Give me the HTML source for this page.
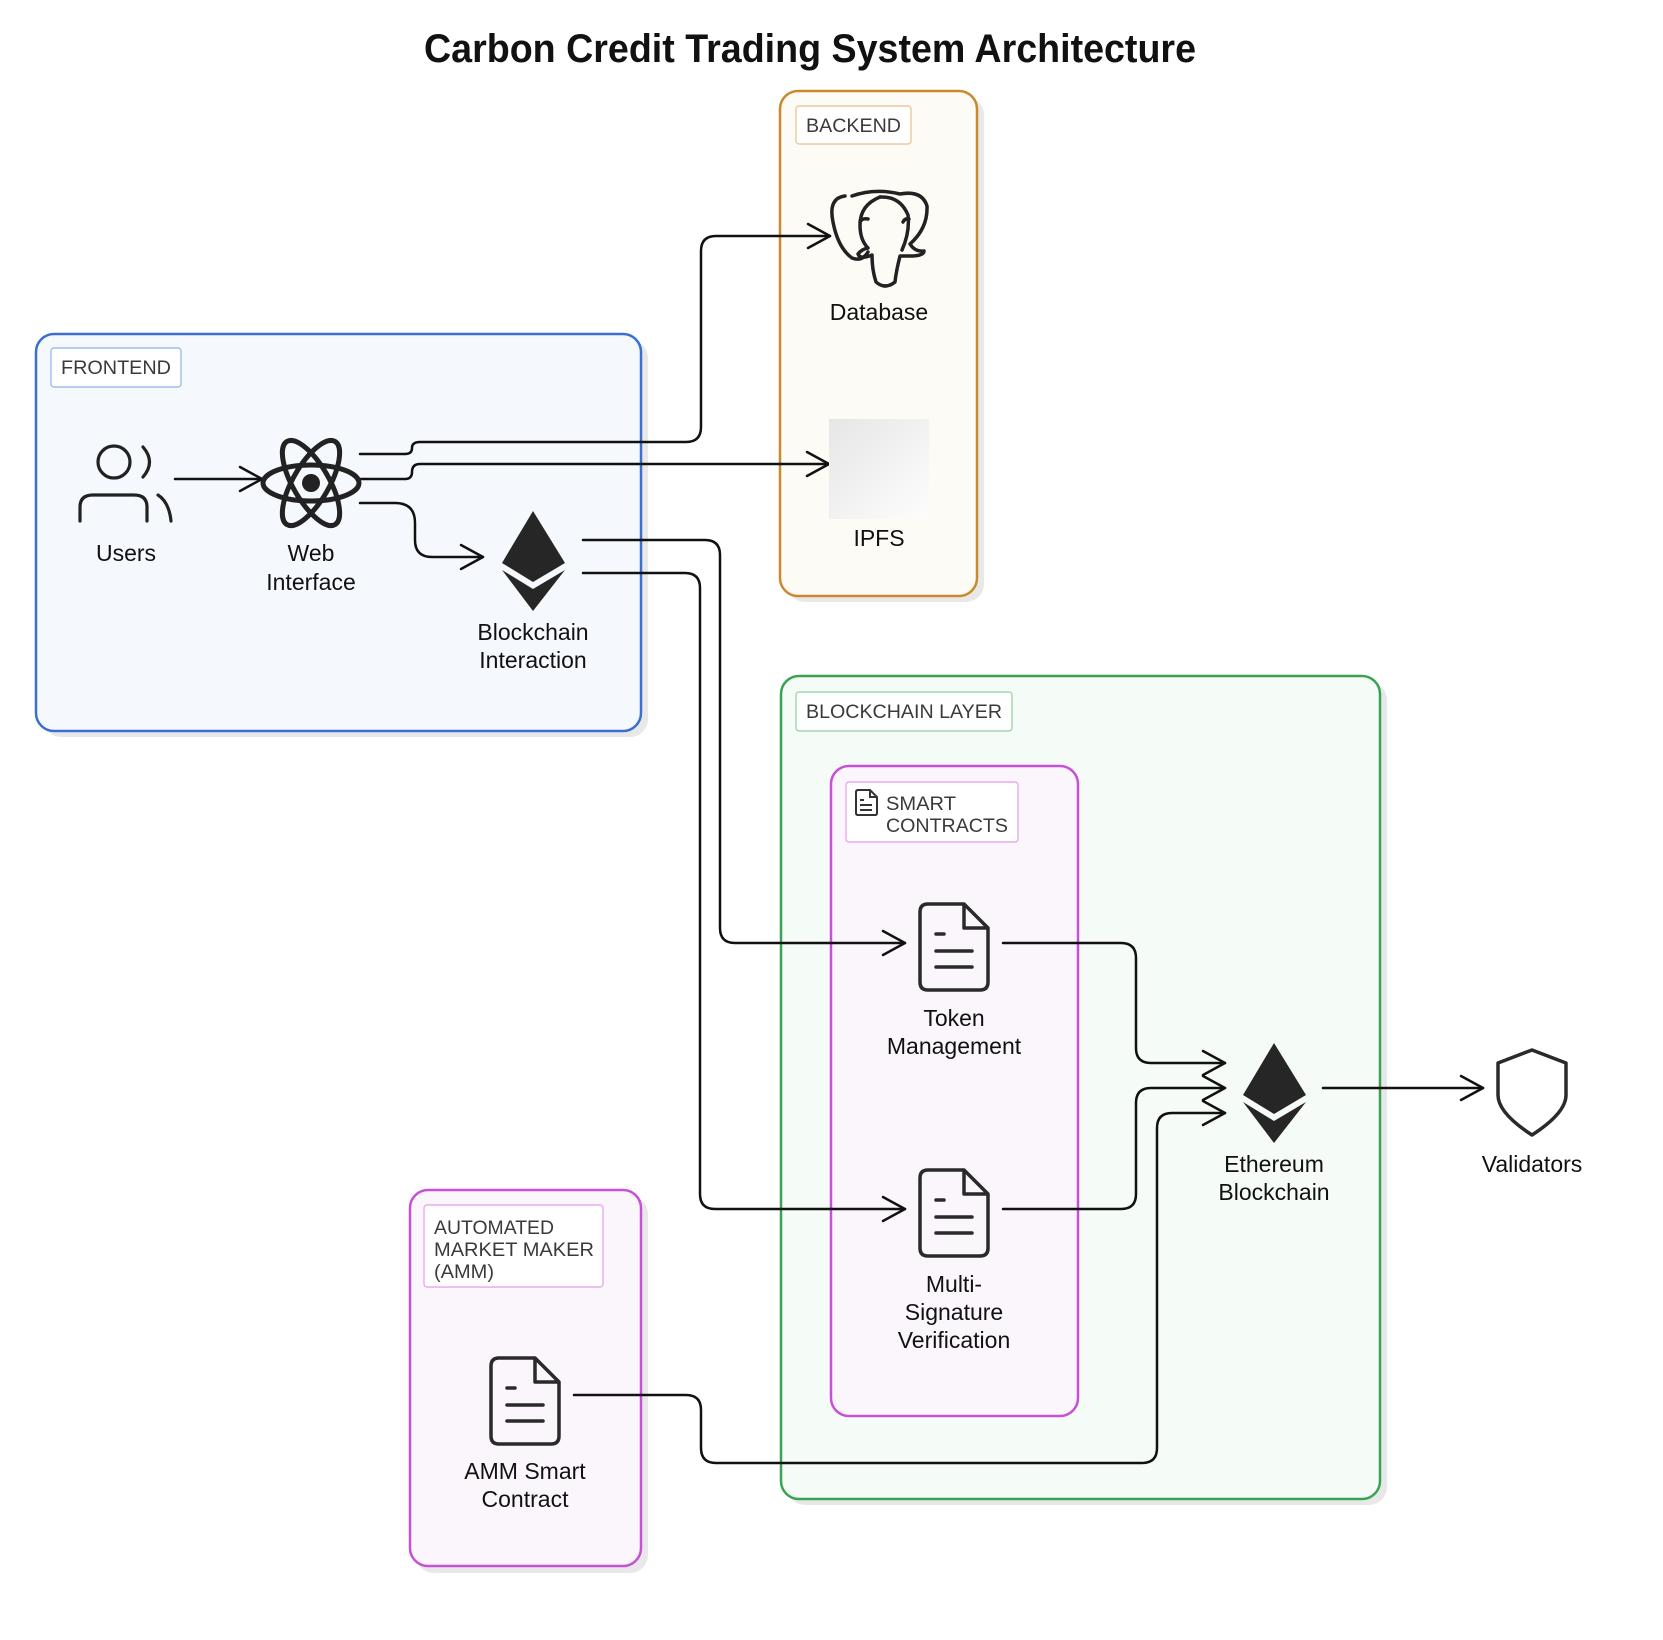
<!DOCTYPE html>
<html><head><meta charset="utf-8"><style>
html,body{margin:0;padding:0;background:#fff;}
svg{display:block;}
text{font-family:"Liberation Sans",Arial,sans-serif;}
</style></head><body>
<svg width="1663" height="1640" viewBox="0 0 1663 1640" xmlns="http://www.w3.org/2000/svg">
<defs>
<linearGradient id="ipfs" x1="0" y1="0" x2="1" y2="1"><stop offset="0" stop-color="#e6e6e6"/><stop offset="1" stop-color="#fdfdfd"/></linearGradient>
</defs>
<rect width="1663" height="1640" fill="#fff"/>
<text x="424" y="62" font-size="40" font-weight="bold" textLength="772" lengthAdjust="spacingAndGlyphs" fill="#111">Carbon Credit Trading System Architecture</text>

<!-- shadows -->
<g fill="#e8e8e8">
<rect x="43" y="340" width="605" height="397" rx="18"/>
<rect x="787" y="97" width="197" height="505" rx="18"/>
<rect x="787" y="682" width="600" height="823" rx="18"/>
<rect x="837" y="772" width="248" height="651" rx="18"/>
<rect x="416" y="1196" width="232" height="377" rx="18"/>
</g>
<!-- containers -->
<rect x="36" y="334" width="605" height="397" rx="18" fill="#f5f8fc" stroke="#3a6fd0" stroke-width="2.5"/>
<rect x="780" y="91" width="197" height="505" rx="18" fill="#fcfbf6" stroke="#c98a2d" stroke-width="2.5"/>
<rect x="781" y="676" width="599" height="823" rx="18" fill="#f5fbf7" stroke="#3aa352" stroke-width="2.5"/>
<rect x="831" y="766" width="247" height="650" rx="18" fill="#fbf6fc" stroke="#c84fd8" stroke-width="2.5"/>
<rect x="410" y="1190" width="231" height="376" rx="18" fill="#fbf6fc" stroke="#c84fd8" stroke-width="2.5"/>

<!-- label boxes -->
<g font-size="19" fill="#3a3a3a">
<rect x="51" y="348" width="130" height="39" rx="3" fill="#fff" stroke="#8fb0e8" stroke-width="1.2"/>
<text x="61" y="374" textLength="110" lengthAdjust="spacingAndGlyphs">FRONTEND</text>
<rect x="796" y="106" width="115" height="38" rx="3" fill="#fff" stroke="#e6c08a" stroke-width="1.2"/>
<text x="806" y="132" textLength="95" lengthAdjust="spacingAndGlyphs">BACKEND</text>
<rect x="796" y="692" width="216" height="39" rx="3" fill="#fff" stroke="#8fd0a0" stroke-width="1.2"/>
<text x="806" y="718" textLength="196" lengthAdjust="spacingAndGlyphs">BLOCKCHAIN LAYER</text>
<rect x="846" y="782" width="172" height="60" rx="3" fill="#fff" stroke="#e49bee" stroke-width="1.2"/>
<text x="886" y="810" textLength="70" lengthAdjust="spacingAndGlyphs">SMART</text>
<text x="886" y="832" textLength="122" lengthAdjust="spacingAndGlyphs">CONTRACTS</text>
<rect x="424" y="1205" width="179" height="82" rx="3" fill="#fff" stroke="#e49bee" stroke-width="1.2"/>
<text x="434" y="1234" textLength="120" lengthAdjust="spacingAndGlyphs">AUTOMATED</text>
<text x="434" y="1256" textLength="160" lengthAdjust="spacingAndGlyphs">MARKET MAKER</text>
<text x="434" y="1278" textLength="60" lengthAdjust="spacingAndGlyphs">(AMM)</text>
</g>
<!-- small doc icon in smart contracts label -->
<g fill="none" stroke="#333" stroke-width="2">
<path d="M858 790 H870 L877 797 V813 Q877 815 875 815 H858 Q856 815 856 813 V792 Q856 790 858 790 Z"/>
<path d="M870 790 V797 H877 M860 800 H864 M860 805 H872 M860 810 H872"/>
</g>

<!-- connectors -->
<g fill="none" stroke="#111" stroke-width="2.5" stroke-linecap="round" stroke-linejoin="round">
<path d="M175 479 H262"/>
<path d="M360 454 H405 Q412 454 412 448 Q412 442 420 442 H686 Q701 442 701 427 V251 Q701 236 716 236 H830"/>
<path d="M360 479 H405 Q412 479 412 472 Q412 464 420 464 H829"/>
<path d="M360 503 H395 Q415 503 415 523 V540 Q415 557 432 557 H483"/>
<path d="M583 540 H705 Q720 540 720 555 V928 Q720 943 735 943 H905"/>
<path d="M583 573 H685 Q700 573 700 588 V1194 Q700 1209 715 1209 H905"/>
<path d="M1003 943 H1121 Q1136 943 1136 958 V1048 Q1136 1063 1151 1063 H1225"/>
<path d="M1003 1209 H1121 Q1136 1209 1136 1194 V1103 Q1136 1088 1151 1088 H1225"/>
<path d="M574 1395 H686 Q701 1395 701 1410 V1448 Q701 1463 716 1463 H1142 Q1157 1463 1157 1448 V1128 Q1157 1113 1172 1113 H1225"/>
<path d="M1323 1088 H1483"/>
<!-- arrowheads -->
<path d="M240 467 L262 479 L240 491"/>
<path d="M808 224 L830 236 L808 248"/>
<path d="M807 452 L829 464 L807 476"/>
<path d="M461 545 L483 557 L461 569"/>
<path d="M883 931 L905 943 L883 955"/>
<path d="M883 1197 L905 1209 L883 1221"/>
<path d="M1203 1051 L1225 1063 L1203 1075"/>
<path d="M1203 1076 L1225 1088 L1203 1100"/>
<path d="M1203 1101 L1225 1113 L1203 1125"/>
<path d="M1461 1076 L1483 1088 L1461 1100"/>
</g>

<!-- Users icon -->
<g fill="none" stroke="#222" stroke-width="3.2" stroke-linecap="round">
<circle cx="114" cy="462" r="16"/>
<path d="M143 447 Q156 462 143 477"/>
<path d="M80 521 V507 Q80 495 93 495 H134 Q147 495 147 507 V521"/>
<path d="M158 495 Q169 502 171 521"/>
</g>
<!-- Atom -->
<g fill="none" stroke="#222" stroke-width="5">
<ellipse cx="311" cy="483" rx="48" ry="18"/>
<ellipse cx="311" cy="483" rx="48" ry="18" transform="rotate(60 311 483)"/>
<ellipse cx="311" cy="483" rx="48" ry="18" transform="rotate(120 311 483)"/>
</g>
<circle cx="311" cy="483" r="9" fill="#222"/>

<!-- Eth icons -->
<g id="eth" fill="#262626">
<polygon points="533,511 565,563 533,582 502,563"/>
<polygon points="502,570 533,589 565,570 533,611"/>
</g>
<g fill="#262626" transform="translate(741 532)">
<polygon points="533,511 565,563 533,582 502,563"/>
<polygon points="502,570 533,589 565,570 533,611"/>
</g>

<!-- Elephant -->
<g fill="none" stroke="#222" stroke-width="3.5" stroke-linecap="round" stroke-linejoin="round">
<path d="M845 196 Q828 198 833 222 Q838 248 852 258 Q862 262 868 252"/>
<path d="M852 196 Q875 188 900 194 Q922 190 927 206 Q928 228 910 244 Q915 252 924 251 Q924 256 910 256 H900 Q896 272 895 282 Q885 290 876 282 Q872 270 872 255 Q860 260 858 254 Q862 249 868 248 Q860 240 860 225 Q860 205 880 197"/>
<path d="M880 197 Q900 196 908 215 Q910 232 902 250"/>
<path d="M860 222 Q862 218 868 219 M903 222 Q905 218 909 219"/>
</g>

<!-- IPFS -->
<rect x="829" y="419" width="100" height="100" fill="url(#ipfs)"/>

<!-- docs -->
<g fill="none" stroke="#2a2a2a" stroke-width="3.5" stroke-linejoin="round" stroke-linecap="round">
<g transform="translate(920 904)"><path d="M8 0 H44 L68 24 V78 Q68 86 60 86 H8 Q0 86 0 78 V8 Q0 0 8 0 Z M44 0 V24 H68 M16 30 H24 M16 47 H52 M16 63 H52"/></g>
<g transform="translate(920 1170)"><path d="M8 0 H44 L68 24 V78 Q68 86 60 86 H8 Q0 86 0 78 V8 Q0 0 8 0 Z M44 0 V24 H68 M16 30 H24 M16 47 H52 M16 63 H52"/></g>
<g transform="translate(491 1358)"><path d="M8 0 H44 L68 24 V78 Q68 86 60 86 H8 Q0 86 0 78 V8 Q0 0 8 0 Z M44 0 V24 H68 M16 30 H24 M16 47 H52 M16 63 H52"/></g>
</g>

<!-- shield -->
<path d="M1532 1050 L1566 1063 V1095 Q1566 1113 1532 1135 Q1498 1113 1498 1095 V1063 Z" fill="#fff" stroke="#2a2a2a" stroke-width="3.5" stroke-linejoin="round"/>

<!-- node labels -->
<g font-size="23" fill="#111" text-anchor="middle">
<text x="126" y="561">Users</text>
<text x="311" y="561">Web</text>
<text x="311" y="590">Interface</text>
<text x="533" y="640">Blockchain</text>
<text x="533" y="668">Interaction</text>
<text x="879" y="320">Database</text>
<text x="879" y="546">IPFS</text>
<text x="954" y="1026">Token</text>
<text x="954" y="1054">Management</text>
<text x="954" y="1292">Multi-</text>
<text x="954" y="1320">Signature</text>
<text x="954" y="1348">Verification</text>
<text x="1274" y="1172">Ethereum</text>
<text x="1274" y="1200">Blockchain</text>
<text x="1532" y="1172">Validators</text>
<text x="525" y="1479">AMM Smart</text>
<text x="525" y="1507">Contract</text>
</g>
</svg>
</body></html>
